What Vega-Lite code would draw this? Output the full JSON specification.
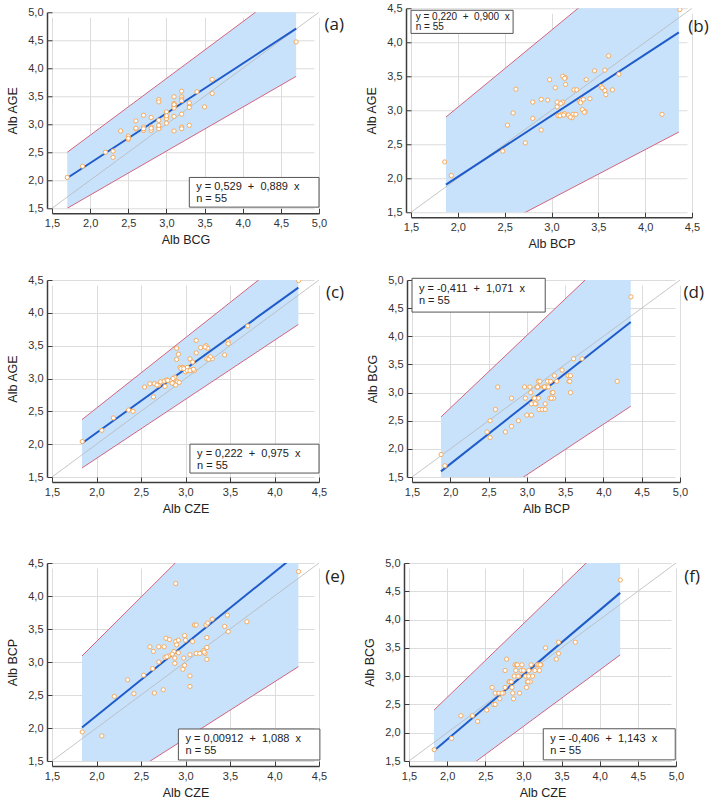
{
"$schema":"https://vega.github.io/schema/vega-lite/v6.json",
"padding":{"left":6,"top":2,"right":0,"bottom":0},
"config":{"view":{"stroke":null},
 "axis":{"grid":true,"offset":5,"tickSize":-5,"labelPadding":9,"tickCount":12,"domainColor":"#3c3c3c","domainWidth":1.5,"tickColor":"#3c3c3c","tickWidth":1,"gridColor":"#dcdcdc","gridWidth":1,"gridOpacity":1,"labelFont":"Liberation Sans","labelFontSize":11,"labelColor":"#333333","titleFont":"Liberation Sans","titleFontSize":12.5,"titleFontWeight":"normal","titleColor":"#222222","labelExpr":"replace(format(datum.value,'.1f'),'.',',')","labelFlush":false,"labelOverlap":false,"labelBound":false},
 "axisY":{"titlePadding":8},
 "axisX":{"titlePadding":5}},
"datasets":{
"ba":[{"x":1.7,"lo":1.5,"hi":2.5,"reg":2.04},{"x":4.7,"lo":3.855,"hi":5.54,"reg":4.707}],
"bb":[{"x":1.873,"lo":0.887,"hi":2.9,"reg":1.906},{"x":4.36,"lo":2.68,"hi":5.72,"reg":4.144}],
"bc":[{"x":1.837,"lo":1.637,"hi":2.374,"reg":2.013},{"x":4.268,"lo":3.823,"hi":4.98,"reg":4.383}],
"bd":[{"x":1.878,"lo":0.531,"hi":2.567,"reg":1.6},{"x":4.357,"lo":2.757,"hi":5.77,"reg":4.255}],
"be":[{"x":1.837,"lo":0.841,"hi":3.091,"reg":2.008},{"x":4.268,"lo":2.929,"hi":6.36,"reg":4.653}],
"bf":[{"x":1.827,"lo":0.944,"hi":2.399,"reg":1.682},{"x":4.268,"lo":3.375,"hi":5.58,"reg":4.472}],
"pa":[{"x":1.7,"y":2.05},{"x":1.9,"y":2.25},{"x":2.2,"y":2.5},{"x":2.3,"y":2.52},{"x":2.3,"y":2.41},{"x":2.4,"y":2.88},{"x":2.5,"y":2.79},{"x":2.5,"y":2.73},{"x":2.6,"y":3.06},{"x":2.6,"y":2.92},{"x":2.7,"y":3.16},{"x":2.7,"y":2.95},{"x":2.7,"y":2.89},{"x":2.8,"y":3.12},{"x":2.8,"y":2.95},{"x":2.8,"y":2.89},{"x":2.8,"y":2.93},{"x":2.9,"y":3.44},{"x":2.9,"y":3.4},{"x":2.9,"y":3.07},{"x":2.9,"y":2.96},{"x":2.9,"y":2.92},{"x":3.0,"y":3.22},{"x":3.0,"y":3.13},{"x":3.0,"y":3.1},{"x":3.0,"y":3.02},{"x":3.1,"y":3.49},{"x":3.1,"y":3.37},{"x":3.1,"y":3.32},{"x":3.1,"y":3.34},{"x":3.1,"y":3.29},{"x":3.1,"y":3.14},{"x":3.1,"y":2.88},{"x":3.2,"y":3.59},{"x":3.2,"y":3.49},{"x":3.2,"y":3.45},{"x":3.2,"y":3.42},{"x":3.2,"y":3.18},{"x":3.2,"y":2.95},{"x":3.2,"y":2.92},{"x":3.3,"y":3.38},{"x":3.3,"y":3.32},{"x":3.3,"y":3.3},{"x":3.3,"y":2.98},{"x":3.4,"y":3.58},{"x":3.5,"y":3.31},{"x":3.6,"y":3.8},{"x":3.6,"y":3.55},{"x":4.7,"y":4.47},{"x":2.7,"y":2.92},{"x":2.6,"y":2.93},{"x":3.0,"y":3.15},{"x":2.9,"y":2.98},{"x":3.1,"y":3.35},{"x":2.5,"y":2.75}],
"pb":[{"x":1.86,"y":2.24},{"x":1.93,"y":2.04},{"x":2.48,"y":2.4},{"x":2.53,"y":2.78},{"x":2.62,"y":3.31},{"x":2.59,"y":2.96},{"x":2.72,"y":2.52},{"x":2.8,"y":3.12},{"x":2.8,"y":2.88},{"x":2.89,"y":3.16},{"x":2.89,"y":2.71},{"x":2.96,"y":3.15},{"x":2.98,"y":3.45},{"x":3.04,"y":3.33},{"x":3.06,"y":3.12},{"x":3.06,"y":3.05},{"x":3.07,"y":2.92},{"x":3.11,"y":2.94},{"x":3.12,"y":3.12},{"x":3.12,"y":3.5},{"x":3.15,"y":3.48},{"x":3.15,"y":3.38},{"x":3.14,"y":2.95},{"x":3.18,"y":2.93},{"x":3.23,"y":2.94},{"x":3.22,"y":2.89},{"x":3.24,"y":3.3},{"x":3.27,"y":3.3},{"x":3.26,"y":2.94},{"x":3.3,"y":3.13},{"x":3.32,"y":3.15},{"x":3.33,"y":3.01},{"x":3.34,"y":3.16},{"x":3.36,"y":2.98},{"x":3.37,"y":3.45},{"x":3.41,"y":3.17},{"x":3.46,"y":3.58},{"x":3.53,"y":3.35},{"x":3.55,"y":3.32},{"x":3.57,"y":3.59},{"x":3.58,"y":3.23},{"x":3.57,"y":3.29},{"x":3.61,"y":3.8},{"x":3.65,"y":3.3},{"x":3.72,"y":3.53},{"x":4.18,"y":2.94},{"x":4.37,"y":4.48},{"x":3.09,"y":2.92},{"x":3.13,"y":2.93},{"x":3.2,"y":2.9},{"x":3.31,"y":3.11},{"x":3.54,"y":3.33},{"x":3.35,"y":2.97},{"x":3.14,"y":3.47},{"x":3.1,"y":3.1}],
"pc":[{"x":2.06,"y":2.21},{"x":2.19,"y":2.4},{"x":2.41,"y":2.5},{"x":2.36,"y":2.52},{"x":2.54,"y":2.87},{"x":2.6,"y":2.92},{"x":2.65,"y":2.92},{"x":2.64,"y":2.72},{"x":2.7,"y":2.9},{"x":2.72,"y":2.95},{"x":2.77,"y":2.88},{"x":2.76,"y":2.96},{"x":2.79,"y":2.98},{"x":2.83,"y":2.96},{"x":2.87,"y":2.92},{"x":2.88,"y":3.02},{"x":2.9,"y":3.46},{"x":2.9,"y":3.29},{"x":2.92,"y":3.37},{"x":2.91,"y":2.95},{"x":2.89,"y":2.9},{"x":2.94,"y":3.17},{"x":2.97,"y":3.17},{"x":3.0,"y":3.1},{"x":3.02,"y":3.17},{"x":3.05,"y":3.3},{"x":3.07,"y":3.13},{"x":3.08,"y":3.25},{"x":3.12,"y":3.58},{"x":3.12,"y":3.39},{"x":3.17,"y":3.47},{"x":3.23,"y":3.5},{"x":3.25,"y":3.46},{"x":3.24,"y":3.3},{"x":3.3,"y":3.3},{"x":3.28,"y":3.33},{"x":3.44,"y":3.36},{"x":3.48,"y":3.56},{"x":3.48,"y":3.53},{"x":3.7,"y":3.8},{"x":4.27,"y":4.49},{"x":1.84,"y":2.04},{"x":2.8,"y":2.97},{"x":2.85,"y":2.93},{"x":2.95,"y":3.15},{"x":3.02,"y":3.12},{"x":3.05,"y":3.12},{"x":3.1,"y":3.12},{"x":2.98,"y":3.15},{"x":3.22,"y":3.48},{"x":2.68,"y":2.9},{"x":2.86,"y":3.0},{"x":3.26,"y":3.29},{"x":2.93,"y":2.94},{"x":3.09,"y":3.14}],
"pd":[{"x":1.88,"y":1.9},{"x":1.93,"y":1.7},{"x":2.48,"y":2.3},{"x":2.52,"y":2.5},{"x":2.52,"y":2.2},{"x":2.59,"y":2.7},{"x":2.62,"y":3.1},{"x":2.72,"y":2.3},{"x":2.8,"y":2.9},{"x":2.8,"y":2.4},{"x":2.89,"y":2.5},{"x":2.97,"y":3.1},{"x":2.98,"y":2.9},{"x":3.0,"y":2.6},{"x":3.04,"y":3.1},{"x":3.05,"y":3.0},{"x":3.06,"y":2.8},{"x":3.06,"y":2.6},{"x":3.09,"y":2.9},{"x":3.12,"y":2.8},{"x":3.13,"y":3.1},{"x":3.15,"y":3.2},{"x":3.15,"y":3.1},{"x":3.15,"y":2.9},{"x":3.16,"y":2.7},{"x":3.2,"y":2.7},{"x":3.22,"y":3.1},{"x":3.24,"y":2.7},{"x":3.24,"y":2.8},{"x":3.25,"y":3.1},{"x":3.27,"y":3.2},{"x":3.3,"y":2.9},{"x":3.33,"y":3.0},{"x":3.35,"y":2.9},{"x":3.36,"y":3.3},{"x":3.39,"y":3.2},{"x":3.46,"y":3.4},{"x":3.54,"y":3.3},{"x":3.55,"y":3.2},{"x":3.57,"y":3.3},{"x":3.57,"y":3.0},{"x":3.61,"y":3.6},{"x":3.72,"y":3.6},{"x":4.18,"y":3.2},{"x":4.36,"y":4.7},{"x":3.11,"y":2.8},{"x":3.14,"y":3.1},{"x":3.32,"y":2.9},{"x":3.23,"y":3.1},{"x":3.31,"y":3.2},{"x":3.1,"y":2.9},{"x":3.56,"y":3.2},{"x":3.17,"y":3.2},{"x":3.34,"y":3.0},{"x":3.28,"y":3.1}],
"pe":[{"x":1.84,"y":1.94},{"x":2.06,"y":1.88},{"x":2.2,"y":2.48},{"x":2.35,"y":2.73},{"x":2.42,"y":2.52},{"x":2.53,"y":2.8},{"x":2.6,"y":3.23},{"x":2.64,"y":3.16},{"x":2.65,"y":2.53},{"x":2.63,"y":2.9},{"x":2.7,"y":3.23},{"x":2.7,"y":3.0},{"x":2.75,"y":2.58},{"x":2.76,"y":3.23},{"x":2.77,"y":3.07},{"x":2.78,"y":3.36},{"x":2.82,"y":3.34},{"x":2.81,"y":3.09},{"x":2.87,"y":3.16},{"x":2.88,"y":3.06},{"x":2.88,"y":2.98},{"x":2.89,"y":3.31},{"x":2.9,"y":3.26},{"x":2.89,"y":4.19},{"x":2.92,"y":3.33},{"x":2.92,"y":3.14},{"x":2.97,"y":2.89},{"x":2.98,"y":3.06},{"x":2.99,"y":2.95},{"x":2.99,"y":3.4},{"x":3.0,"y":3.33},{"x":3.05,"y":3.11},{"x":3.05,"y":2.79},{"x":3.05,"y":2.63},{"x":3.08,"y":3.31},{"x":3.1,"y":3.56},{"x":3.12,"y":3.56},{"x":3.12,"y":3.13},{"x":3.16,"y":3.13},{"x":3.2,"y":3.17},{"x":3.22,"y":3.13},{"x":3.23,"y":3.56},{"x":3.24,"y":3.22},{"x":3.24,"y":3.37},{"x":3.24,"y":3.04},{"x":3.25,"y":3.59},{"x":3.3,"y":3.65},{"x":3.44,"y":3.54},{"x":3.47,"y":3.71},{"x":3.48,"y":3.46},{"x":3.69,"y":3.61},{"x":4.27,"y":4.37},{"x":2.85,"y":3.12},{"x":2.79,"y":3.08},{"x":3.21,"y":3.15}],
"pf":[{"x":1.83,"y":1.7},{"x":2.06,"y":1.9},{"x":2.18,"y":2.3},{"x":2.33,"y":2.3},{"x":2.4,"y":2.2},{"x":2.52,"y":2.4},{"x":2.59,"y":2.8},{"x":2.61,"y":2.5},{"x":2.63,"y":2.7},{"x":2.63,"y":2.5},{"x":2.68,"y":2.7},{"x":2.69,"y":2.6},{"x":2.74,"y":2.7},{"x":2.76,"y":2.8},{"x":2.76,"y":3.1},{"x":2.78,"y":3.3},{"x":2.81,"y":2.9},{"x":2.82,"y":2.9},{"x":2.85,"y":2.8},{"x":2.86,"y":2.7},{"x":2.87,"y":2.6},{"x":2.88,"y":3.0},{"x":2.89,"y":3.2},{"x":2.91,"y":3.2},{"x":2.9,"y":3.1},{"x":2.94,"y":3.0},{"x":2.95,"y":2.7},{"x":2.97,"y":3.1},{"x":2.98,"y":3.2},{"x":3.03,"y":3.0},{"x":3.04,"y":2.8},{"x":3.05,"y":2.9},{"x":3.07,"y":3.1},{"x":3.07,"y":3.0},{"x":3.09,"y":2.9},{"x":3.1,"y":3.2},{"x":3.18,"y":3.2},{"x":3.2,"y":3.2},{"x":3.21,"y":3.1},{"x":3.23,"y":3.2},{"x":3.29,"y":3.5},{"x":3.43,"y":3.3},{"x":3.46,"y":3.6},{"x":3.46,"y":3.4},{"x":3.68,"y":3.6},{"x":4.27,"y":4.7},{"x":2.92,"y":3.2},{"x":3.0,"y":3.1},{"x":3.12,"y":3.0},{"x":3.22,"y":3.2},{"x":2.84,"y":2.9},{"x":3.06,"y":2.9},{"x":2.72,"y":2.7},{"x":3.15,"y":3.1},{"x":2.93,"y":3.0}]
},
"spacing":42,
"vconcat":[
{"spacing":24,"vconcat":[
{"hconcat":[
{"width":267,"height":196,"layer":[
{"data":{"name":"ba"},"mark":{"type":"area","clip":true,"color":"#c8e2fb","opacity":1},"encoding":{"x":{"field":"x","type":"quantitative","scale":{"domain":[1.5,5],"nice":false,"zero":false},"axis":{"title":"Alb BCG","grid":true,"values":[1.5,2,2.5,3,3.5,4,4.5,5],"tickCount":12}},"y":{"field":"lo","type":"quantitative","scale":{"domain":[1.5,5],"nice":false,"zero":false},"axis":{"title":"Alb AGE","grid":true,"values":[1.5,2,2.5,3,3.5,4,4.5,5],"tickCount":12}},"y2":{"field":"hi"}}},
{"data":{"name":"ba"},"mark":{"type":"line","clip":true,"color":"#d4647e","strokeWidth":1},"encoding":{"x":{"field":"x","type":"quantitative"},"y":{"field":"lo","type":"quantitative"}}},
{"data":{"name":"ba"},"mark":{"type":"line","clip":true,"color":"#d4647e","strokeWidth":1},"encoding":{"x":{"field":"x","type":"quantitative"},"y":{"field":"hi","type":"quantitative"}}},
{"data":{"values":[{}]},"mark":{"type":"rule","clip":true,"color":"#b8b8b8","strokeWidth":0.8},"encoding":{"x":{"datum":1.5,"type":"quantitative"},"y":{"datum":1.5,"type":"quantitative"},"x2":{"datum":5},"y2":{"datum":5}}},
{"data":{"name":"ba"},"mark":{"type":"line","clip":true,"color":"#1f5bc9","strokeWidth":2},"encoding":{"x":{"field":"x","type":"quantitative"},"y":{"field":"reg","type":"quantitative"}}},
{"data":{"name":"pa"},"mark":{"type":"circle","clip":true,"fill":"#ffffff","stroke":"#f6aa5c","strokeWidth":1,"size":18,"opacity":1},"encoding":{"x":{"field":"x","type":"quantitative"},"y":{"field":"y","type":"quantitative"}}},
{"data":{"values":[{}]},"mark":{"type":"rect","fill":"#ffffff","stroke":"#555555","strokeWidth":1},"encoding":{"x":{"datum":3.3,"type":"quantitative"},"x2":{"datum":5.0},"y":{"datum":2.05,"type":"quantitative"},"y2":{"datum":1.52}}},
{"data":{"values":[{}]},"mark":{"type":"text","text":["y = 0,529 \u00a0+ \u00a00,889 \u00a0x","n = 55"],"align":"left","baseline":"top","font":"Liberation Sans","fontSize":11,"lineHeight":12,"color":"#222222"},"encoding":{"x":{"datum":3.39,"type":"quantitative"},"y":{"datum":1.98,"type":"quantitative"}}},
{"data":{"values":[{}]},"mark":{"type":"text","text":"(a)","font":"Open Sans","fontSize":17,"color":"#222222"},"encoding":{"x":{"datum":5.2,"type":"quantitative"},"y":{"datum":4.77,"type":"quantitative"}}}
]},
{"width":281,"height":204,"layer":[
{"data":{"name":"bb"},"mark":{"type":"area","clip":true,"color":"#c8e2fb","opacity":1},"encoding":{"x":{"field":"x","type":"quantitative","scale":{"domain":[1.5,4.5],"nice":false,"zero":false},"axis":{"title":"Alb BCP","grid":true,"values":[1.5,2,2.5,3,3.5,4,4.5],"tickCount":12}},"y":{"field":"lo","type":"quantitative","scale":{"domain":[1.5,4.5],"nice":false,"zero":false},"axis":{"title":"Alb AGE","grid":true,"values":[1.5,2,2.5,3,3.5,4,4.5],"tickCount":12}},"y2":{"field":"hi"}}},
{"data":{"name":"bb"},"mark":{"type":"line","clip":true,"color":"#d4647e","strokeWidth":1},"encoding":{"x":{"field":"x","type":"quantitative"},"y":{"field":"lo","type":"quantitative"}}},
{"data":{"name":"bb"},"mark":{"type":"line","clip":true,"color":"#d4647e","strokeWidth":1},"encoding":{"x":{"field":"x","type":"quantitative"},"y":{"field":"hi","type":"quantitative"}}},
{"data":{"values":[{}]},"mark":{"type":"rule","clip":true,"color":"#b8b8b8","strokeWidth":0.8},"encoding":{"x":{"datum":1.5,"type":"quantitative"},"y":{"datum":1.5,"type":"quantitative"},"x2":{"datum":4.5},"y2":{"datum":4.5}}},
{"data":{"name":"bb"},"mark":{"type":"line","clip":true,"color":"#1f5bc9","strokeWidth":2},"encoding":{"x":{"field":"x","type":"quantitative"},"y":{"field":"reg","type":"quantitative"}}},
{"data":{"name":"pb"},"mark":{"type":"circle","clip":true,"fill":"#ffffff","stroke":"#f6aa5c","strokeWidth":1,"size":18,"opacity":1},"encoding":{"x":{"field":"x","type":"quantitative"},"y":{"field":"y","type":"quantitative"}}},
{"data":{"values":[{}]},"mark":{"type":"rect","fill":"#ffffff","stroke":"#555555","strokeWidth":1},"encoding":{"x":{"datum":1.5,"type":"quantitative"},"x2":{"datum":2.59},"y":{"datum":4.47,"type":"quantitative"},"y2":{"datum":4.13}}},
{"data":{"values":[{}]},"mark":{"type":"text","text":["y = 0,220 \u00a0+ \u00a00,900 \u00a0x","n = 55"],"align":"left","baseline":"top","font":"Liberation Sans","fontSize":10,"lineHeight":10.5,"color":"#222222"},"encoding":{"x":{"datum":1.55,"type":"quantitative"},"y":{"datum":4.45,"type":"quantitative"}}},
{"data":{"values":[{}]},"mark":{"type":"text","text":"(b)","font":"Open Sans","fontSize":17,"color":"#222222"},"encoding":{"x":{"datum":4.57,"type":"quantitative"},"y":{"datum":4.22,"type":"quantitative"}}}
]}
],"spacing":21,"center":true},
{"hconcat":[
{"width":267,"height":197,"layer":[
{"data":{"name":"bc"},"mark":{"type":"area","clip":true,"color":"#c8e2fb","opacity":1},"encoding":{"x":{"field":"x","type":"quantitative","scale":{"domain":[1.5,4.5],"nice":false,"zero":false},"axis":{"title":"Alb CZE","grid":true,"values":[1.5,2,2.5,3,3.5,4,4.5],"tickCount":12}},"y":{"field":"lo","type":"quantitative","scale":{"domain":[1.5,4.5],"nice":false,"zero":false},"axis":{"title":"Alb AGE","grid":true,"values":[1.5,2,2.5,3,3.5,4,4.5],"tickCount":12}},"y2":{"field":"hi"}}},
{"data":{"name":"bc"},"mark":{"type":"line","clip":true,"color":"#d4647e","strokeWidth":1},"encoding":{"x":{"field":"x","type":"quantitative"},"y":{"field":"lo","type":"quantitative"}}},
{"data":{"name":"bc"},"mark":{"type":"line","clip":true,"color":"#d4647e","strokeWidth":1},"encoding":{"x":{"field":"x","type":"quantitative"},"y":{"field":"hi","type":"quantitative"}}},
{"data":{"values":[{}]},"mark":{"type":"rule","clip":true,"color":"#b8b8b8","strokeWidth":0.8},"encoding":{"x":{"datum":1.5,"type":"quantitative"},"y":{"datum":1.5,"type":"quantitative"},"x2":{"datum":4.5},"y2":{"datum":4.5}}},
{"data":{"name":"bc"},"mark":{"type":"line","clip":true,"color":"#1f5bc9","strokeWidth":2},"encoding":{"x":{"field":"x","type":"quantitative"},"y":{"field":"reg","type":"quantitative"}}},
{"data":{"name":"pc"},"mark":{"type":"circle","clip":true,"fill":"#ffffff","stroke":"#f6aa5c","strokeWidth":1,"size":18,"opacity":1},"encoding":{"x":{"field":"x","type":"quantitative"},"y":{"field":"y","type":"quantitative"}}},
{"data":{"values":[{}]},"mark":{"type":"rect","fill":"#ffffff","stroke":"#555555","strokeWidth":1},"encoding":{"x":{"datum":3.05,"type":"quantitative"},"x2":{"datum":4.5},"y":{"datum":2.0,"type":"quantitative"},"y2":{"datum":1.56}}},
{"data":{"values":[{}]},"mark":{"type":"text","text":["y = 0,222 \u00a0+ \u00a00,975 \u00a0x","n = 55"],"align":"left","baseline":"top","font":"Liberation Sans","fontSize":11,"lineHeight":12,"color":"#222222"},"encoding":{"x":{"datum":3.13,"type":"quantitative"},"y":{"datum":1.94,"type":"quantitative"}}},
{"data":{"values":[{}]},"mark":{"type":"text","text":"(c)","font":"Open Sans","fontSize":17,"color":"#222222"},"encoding":{"x":{"datum":4.68,"type":"quantitative"},"y":{"datum":4.3,"type":"quantitative"}}}
]},
{"width":268,"height":197,"layer":[
{"data":{"name":"bd"},"mark":{"type":"area","clip":true,"color":"#c8e2fb","opacity":1},"encoding":{"x":{"field":"x","type":"quantitative","scale":{"domain":[1.5,5],"nice":false,"zero":false},"axis":{"title":"Alb BCP","grid":true,"values":[1.5,2,2.5,3,3.5,4,4.5,5],"tickCount":12}},"y":{"field":"lo","type":"quantitative","scale":{"domain":[1.5,5],"nice":false,"zero":false},"axis":{"title":"Alb BCG","grid":true,"values":[1.5,2,2.5,3,3.5,4,4.5,5],"tickCount":12}},"y2":{"field":"hi"}}},
{"data":{"name":"bd"},"mark":{"type":"line","clip":true,"color":"#d4647e","strokeWidth":1},"encoding":{"x":{"field":"x","type":"quantitative"},"y":{"field":"lo","type":"quantitative"}}},
{"data":{"name":"bd"},"mark":{"type":"line","clip":true,"color":"#d4647e","strokeWidth":1},"encoding":{"x":{"field":"x","type":"quantitative"},"y":{"field":"hi","type":"quantitative"}}},
{"data":{"values":[{}]},"mark":{"type":"rule","clip":true,"color":"#b8b8b8","strokeWidth":0.8},"encoding":{"x":{"datum":1.5,"type":"quantitative"},"y":{"datum":1.5,"type":"quantitative"},"x2":{"datum":5},"y2":{"datum":5}}},
{"data":{"name":"bd"},"mark":{"type":"line","clip":true,"color":"#1f5bc9","strokeWidth":2},"encoding":{"x":{"field":"x","type":"quantitative"},"y":{"field":"reg","type":"quantitative"}}},
{"data":{"name":"pd"},"mark":{"type":"circle","clip":true,"fill":"#ffffff","stroke":"#f6aa5c","strokeWidth":1,"size":18,"opacity":1},"encoding":{"x":{"field":"x","type":"quantitative"},"y":{"field":"y","type":"quantitative"}}},
{"data":{"values":[{}]},"mark":{"type":"rect","fill":"#ffffff","stroke":"#555555","strokeWidth":1},"encoding":{"x":{"datum":1.5,"type":"quantitative"},"x2":{"datum":3.24},"y":{"datum":5.03,"type":"quantitative"},"y2":{"datum":4.43}}},
{"data":{"values":[{}]},"mark":{"type":"text","text":["y = -0,411 \u00a0+ \u00a01,071 \u00a0x","n = 55"],"align":"left","baseline":"top","font":"Liberation Sans","fontSize":11,"lineHeight":12,"color":"#222222"},"encoding":{"x":{"datum":1.59,"type":"quantitative"},"y":{"datum":4.95,"type":"quantitative"}}},
{"data":{"values":[{}]},"mark":{"type":"text","text":"(d)","font":"Open Sans","fontSize":17,"color":"#222222"},"encoding":{"x":{"datum":5.18,"type":"quantitative"},"y":{"datum":4.77,"type":"quantitative"}}}
]}
],"spacing":21}
]},
{"hconcat":[
{"width":267,"height":198,"layer":[
{"data":{"name":"be"},"mark":{"type":"area","clip":true,"color":"#c8e2fb","opacity":1},"encoding":{"x":{"field":"x","type":"quantitative","scale":{"domain":[1.5,4.5],"nice":false,"zero":false},"axis":{"title":"Alb CZE","grid":true,"values":[1.5,2,2.5,3,3.5,4,4.5],"tickCount":12}},"y":{"field":"lo","type":"quantitative","scale":{"domain":[1.5,4.5],"nice":false,"zero":false},"axis":{"title":"Alb BCP","grid":true,"values":[1.5,2,2.5,3,3.5,4,4.5],"tickCount":12}},"y2":{"field":"hi"}}},
{"data":{"name":"be"},"mark":{"type":"line","clip":true,"color":"#d4647e","strokeWidth":1},"encoding":{"x":{"field":"x","type":"quantitative"},"y":{"field":"lo","type":"quantitative"}}},
{"data":{"name":"be"},"mark":{"type":"line","clip":true,"color":"#d4647e","strokeWidth":1},"encoding":{"x":{"field":"x","type":"quantitative"},"y":{"field":"hi","type":"quantitative"}}},
{"data":{"values":[{}]},"mark":{"type":"rule","clip":true,"color":"#b8b8b8","strokeWidth":0.8},"encoding":{"x":{"datum":1.5,"type":"quantitative"},"y":{"datum":1.5,"type":"quantitative"},"x2":{"datum":4.5},"y2":{"datum":4.5}}},
{"data":{"name":"be"},"mark":{"type":"line","clip":true,"color":"#1f5bc9","strokeWidth":2},"encoding":{"x":{"field":"x","type":"quantitative"},"y":{"field":"reg","type":"quantitative"}}},
{"data":{"name":"pe"},"mark":{"type":"circle","clip":true,"fill":"#ffffff","stroke":"#f6aa5c","strokeWidth":1,"size":18,"opacity":1},"encoding":{"x":{"field":"x","type":"quantitative"},"y":{"field":"y","type":"quantitative"}}},
{"data":{"values":[{}]},"mark":{"type":"rect","fill":"#ffffff","stroke":"#555555","strokeWidth":1},"encoding":{"x":{"datum":2.92,"type":"quantitative"},"x2":{"datum":4.51},"y":{"datum":1.985,"type":"quantitative"},"y2":{"datum":1.515}}},
{"data":{"values":[{}]},"mark":{"type":"text","text":["y = 0,00912 \u00a0+ \u00a01,088 \u00a0x","n = 55"],"align":"left","baseline":"top","font":"Liberation Sans","fontSize":11,"lineHeight":12,"color":"#222222"},"encoding":{"x":{"datum":3.0,"type":"quantitative"},"y":{"datum":1.92,"type":"quantitative"}}},
{"data":{"values":[{}]},"mark":{"type":"text","text":"(e)","font":"Open Sans","fontSize":17,"color":"#222222"},"encoding":{"x":{"datum":4.68,"type":"quantitative"},"y":{"datum":4.29,"type":"quantitative"}}}
]},
{"width":267,"height":198,"layer":[
{"data":{"name":"bf"},"mark":{"type":"area","clip":true,"color":"#c8e2fb","opacity":1},"encoding":{"x":{"field":"x","type":"quantitative","scale":{"domain":[1.5,5],"nice":false,"zero":false},"axis":{"title":"Alb CZE","grid":true,"values":[1.5,2,2.5,3,3.5,4,4.5,5],"tickCount":12}},"y":{"field":"lo","type":"quantitative","scale":{"domain":[1.5,5],"nice":false,"zero":false},"axis":{"title":"Alb BCG","grid":true,"values":[1.5,2,2.5,3,3.5,4,4.5,5],"tickCount":12}},"y2":{"field":"hi"}}},
{"data":{"name":"bf"},"mark":{"type":"line","clip":true,"color":"#d4647e","strokeWidth":1},"encoding":{"x":{"field":"x","type":"quantitative"},"y":{"field":"lo","type":"quantitative"}}},
{"data":{"name":"bf"},"mark":{"type":"line","clip":true,"color":"#d4647e","strokeWidth":1},"encoding":{"x":{"field":"x","type":"quantitative"},"y":{"field":"hi","type":"quantitative"}}},
{"data":{"values":[{}]},"mark":{"type":"rule","clip":true,"color":"#b8b8b8","strokeWidth":0.8},"encoding":{"x":{"datum":1.5,"type":"quantitative"},"y":{"datum":1.5,"type":"quantitative"},"x2":{"datum":5},"y2":{"datum":5}}},
{"data":{"name":"bf"},"mark":{"type":"line","clip":true,"color":"#1f5bc9","strokeWidth":2},"encoding":{"x":{"field":"x","type":"quantitative"},"y":{"field":"reg","type":"quantitative"}}},
{"data":{"name":"pf"},"mark":{"type":"circle","clip":true,"fill":"#ffffff","stroke":"#f6aa5c","strokeWidth":1,"size":18,"opacity":1},"encoding":{"x":{"field":"x","type":"quantitative"},"y":{"field":"y","type":"quantitative"}}},
{"data":{"values":[{}]},"mark":{"type":"rect","fill":"#ffffff","stroke":"#555555","strokeWidth":1},"encoding":{"x":{"datum":3.26,"type":"quantitative"},"x2":{"datum":4.99},"y":{"datum":2.07,"type":"quantitative"},"y2":{"datum":1.52}}},
{"data":{"values":[{}]},"mark":{"type":"text","text":["y = -0,406 \u00a0+ \u00a01,143 \u00a0x","n = 55"],"align":"left","baseline":"top","font":"Liberation Sans","fontSize":11,"lineHeight":12,"color":"#222222"},"encoding":{"x":{"datum":3.35,"type":"quantitative"},"y":{"datum":2.0,"type":"quantitative"}}},
{"data":{"values":[{}]},"mark":{"type":"text","text":"(f)","font":"Open Sans","fontSize":17,"color":"#222222"},"encoding":{"x":{"datum":5.21,"type":"quantitative"},"y":{"datum":4.75,"type":"quantitative"}}}
]}
],"spacing":18}
]
}
